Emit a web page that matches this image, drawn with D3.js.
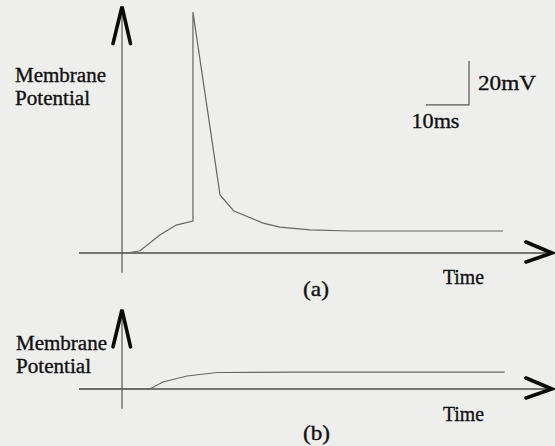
<!DOCTYPE html>
<html>
<head>
<meta charset="utf-8">
<script src="https://cdn.jsdelivr.net/npm/d3@7"></script>
<style>
  html, body { margin: 0; padding: 0; background: #eeeeec; }
  svg { display: block; }
  text { font-family: "Liberation Serif", "Times New Roman", serif; fill: #111; stroke: #111; stroke-width: 0.35; }
</style>
</head>
<body>
<svg width="555" height="446"></svg>
<script>
// trace (a): time in ms, potential in mV above rest
let timeA = [1.2, 4.2, 8.8, 12.6, 16.5, 16.5, 22.8, 26.0, 32.8, 36.7, 43.7, 53, 88.6];
let voltA = [0, 1.0, 8.2, 12.7, 14.5, 109.5, 26.4, 19.1, 13.6, 11.8, 10.5, 10, 10];

// trace (b)
let timeB = [-10, 6.5, 9.5, 15.1, 22.1, 40, 89];
let voltB = [0, 0, 3.2, 5.9, 7.5, 7.7, 7.7];

// scale bar
let barTime = 10, barVolt = 20;
let barLabels = ["10ms", "20mV"];
let yLabel = ["Membrane", "Potential"];
let xLabel = "Time";
let panelLabels = ["(a)", "(b)"];

let svg = d3.select("svg");

let x = d3.scaleLinear().domain([0, 10]).range([122, 165]);   // 4.3 px per ms
let yA = d3.scaleLinear().domain([0, 20]).range([253, 209]);  // 2.2 px per mV
let yB = d3.scaleLinear().domain([0, 20]).range([389, 345]);

let line = function(y) {
  return d3.line().x(d => x(d[0])).y(d => y(d[1]));
};

function drawAxes(y, vTop) {
  let g = svg.append("g");
  // x axis
  g.append("line")
    .attr("x1", x(-10)).attr("x2", x(100))
    .attr("y1", y(0)).attr("y2", y(0))
    .attr("stroke", "#4a4a4a").attr("stroke-width", 1.6);
  // y axis
  g.append("line")
    .attr("x1", x(0)).attr("x2", x(0))
    .attr("y1", y(-9)).attr("y2", y(vTop))
    .attr("stroke", "#555").attr("stroke-width", 1.2);
  // arrow heads
  g.append("path")
    .attr("d", "M" + (x(0) - 9) + "," + (y(vTop) + 37) + "L" + x(0) + "," + y(vTop) + "L" + (x(0) + 8.5) + "," + (y(vTop) + 37))
    .attr("fill", "none").attr("stroke", "#0a0a0a").attr("stroke-width", 3.6)
    .attr("stroke-linejoin", "miter").attr("stroke-linecap", "round");
  g.append("path")
    .attr("d", "M" + (x(100) - 26) + "," + (y(0) - 11) + "L" + x(100) + "," + y(0) + "L" + (x(100) - 26) + "," + (y(0) + 9))
    .attr("fill", "none").attr("stroke", "#0a0a0a").attr("stroke-width", 3.6)
    .attr("stroke-linejoin", "miter").attr("stroke-linecap", "round");
}

drawAxes(yA, 112);
drawAxes(yB, 36);

svg.append("path")
  .datum(d3.zip(timeA, voltA))
  .attr("d", line(yA))
  .attr("fill", "none").attr("stroke", "#666").attr("stroke-width", 1.2);

svg.append("path")
  .datum(d3.zip(timeB, voltB))
  .attr("d", line(yB))
  .attr("fill", "none").attr("stroke", "#666").attr("stroke-width", 1.2);

// scale bar, corner at 80.7 ms / 67.3 mV
let bt = 80.7, bv = 67.3;
svg.append("path")
  .attr("d", "M" + x(bt - barTime) + "," + yA(bv) + "L" + x(bt) + "," + yA(bv) + "L" + x(bt) + "," + yA(bv + barVolt))
  .attr("fill", "none").attr("stroke", "#555").attr("stroke-width", 1.2);

function label(txt, px, py, size, len) {
  svg.append("text")
    .attr("x", px).attr("y", py)
    .attr("font-size", size)
    .attr("textLength", len)
    .attr("lengthAdjust", "spacingAndGlyphs")
    .text(txt);
}

label(barLabels[1], 478, 90, 22, 58);
label(barLabels[0], 411.5, 128, 21, 48);

label(yLabel[0], 15, 82, 20, 91);
label(yLabel[1], 15, 105, 20, 75);
label(yLabel[0], 16, 350, 20, 91);
label(yLabel[1], 16, 373, 20, 75);

label(xLabel, 443, 284, 21, 41);
label(xLabel, 443, 421, 21, 41);

label(panelLabels[0], 303, 296, 21, 26);
label(panelLabels[1], 303, 440, 21, 27);
</script>
</body>
</html>
